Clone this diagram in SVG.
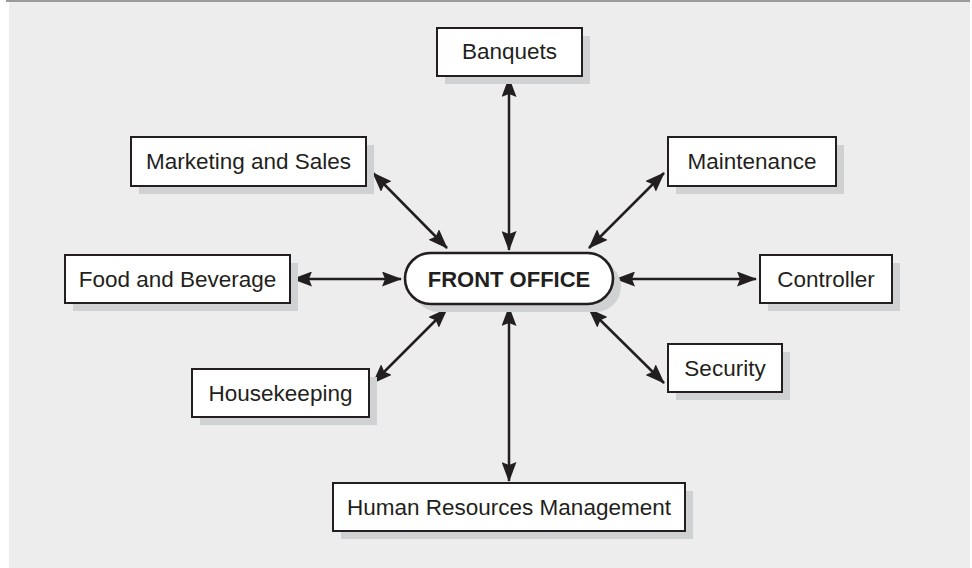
<svg xmlns="http://www.w3.org/2000/svg" width="972" height="568" viewBox="0 0 972 568">
  <defs>
    <style>
      .panel { fill: #ededed; }
      .rule { stroke: #9a9a9a; stroke-width: 2; }
      .shadow { fill: #cfd1d3; }
      .box { fill: #ffffff; stroke: #231f20; stroke-width: 2; }
      .pill { fill: #ffffff; stroke: #231f20; stroke-width: 2.6; }
      .label { font-family: "Liberation Sans", Arial, Helvetica, sans-serif; font-size: 22.5px; fill: #231f20; text-anchor: middle; }
      .bold { font-weight: bold; font-size: 22px; }
      .link { stroke: #231f20; stroke-width: 2.5; fill: none; marker-start: url(#head); marker-end: url(#head); }
    </style>
    <marker id="head" viewBox="0 0 20 15" refX="19" refY="7.5" markerWidth="20" markerHeight="15" markerUnits="userSpaceOnUse" orient="auto-start-reverse">
      <path d="M0,0 L20,7.5 L0,15 L3,7.5 z" fill="#231f20"/>
    </marker>
  </defs>

  <!-- background panel and top rule -->
  <rect class="panel" x="9" y="1" width="961" height="567"/>
  <line class="rule" x1="6" y1="1" x2="970" y2="1"/>

  <!-- connectors -->
  <g id="connectors">
    <line class="link" x1="509" y1="78" x2="509" y2="250"/>
    <line class="link" x1="509" y1="307" x2="509" y2="481"/>
    <line class="link" x1="293" y1="279" x2="401" y2="279"/>
    <line class="link" x1="616" y1="279" x2="756" y2="279"/>
    <line class="link" x1="373" y1="173" x2="447" y2="248"/>
    <line class="link" x1="664" y1="173" x2="589" y2="248"/>
    <line class="link" x1="373" y1="383" x2="447" y2="309"/>
    <line class="link" x1="664" y1="383" x2="589" y2="309"/>
  </g>

  <!-- central node -->
  <g id="front-office">
    <rect class="shadow" x="413" y="261" width="208" height="51" rx="25.5"/>
    <rect class="pill" x="405" y="253" width="208" height="51" rx="25.5"/>
    <text class="label bold" x="509" y="286.5">FRONT OFFICE</text>
  </g>

  <g id="banquets">
    <rect class="shadow" x="445" y="36" width="145" height="48"/>
    <rect class="box" x="437" y="28" width="145" height="48"/>
    <text class="label" x="509.5" y="59">Banquets</text>
  </g>

  <g id="marketing-sales">
    <rect class="shadow" x="139" y="145" width="235" height="49"/>
    <rect class="box" x="131" y="137" width="235" height="49"/>
    <text class="label" x="248.5" y="169">Marketing and Sales</text>
  </g>

  <g id="maintenance">
    <rect class="shadow" x="676" y="145" width="168" height="49"/>
    <rect class="box" x="668" y="137" width="168" height="49"/>
    <text class="label" x="752" y="169">Maintenance</text>
  </g>

  <g id="food-beverage">
    <rect class="shadow" x="73" y="263" width="225" height="48"/>
    <rect class="box" x="65" y="255" width="225" height="48"/>
    <text class="label" x="177.5" y="286.5">Food and Beverage</text>
  </g>

  <g id="controller">
    <rect class="shadow" x="768" y="263" width="132" height="48"/>
    <rect class="box" x="760" y="255" width="132" height="48"/>
    <text class="label" x="826" y="286.5">Controller</text>
  </g>

  <g id="housekeeping">
    <rect class="shadow" x="200" y="377" width="177" height="48"/>
    <rect class="box" x="192" y="369" width="177" height="48"/>
    <text class="label" x="280.5" y="400.5">Housekeeping</text>
  </g>

  <g id="security">
    <rect class="shadow" x="676" y="352" width="114" height="48"/>
    <rect class="box" x="668" y="344" width="114" height="48"/>
    <text class="label" x="725" y="375.5">Security</text>
  </g>

  <g id="human-resources">
    <rect class="shadow" x="341" y="491" width="352" height="48"/>
    <rect class="box" x="333" y="483" width="352" height="48"/>
    <text class="label" x="509" y="514.5">Human Resources Management</text>
  </g>
</svg>
